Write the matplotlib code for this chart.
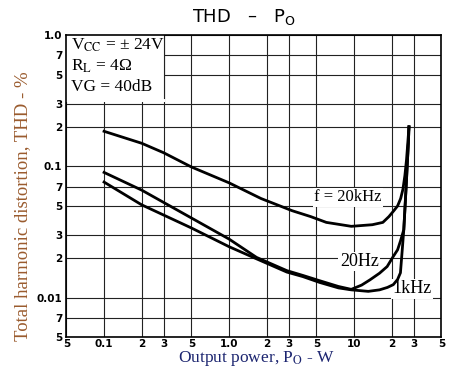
import matplotlib

matplotlib.use("Agg")
import matplotlib.pyplot as plt
from matplotlib.patches import Rectangle

plt.rcParams["mathtext.fontset"] = "stix"

# output power (W) and THD (%)
P_20KHZ = [0.1, 0.2, 0.3, 0.5, 1.0, 1.8, 3.2, 4.5, 6.0, 9.5, 14, 17, 19, 20.8, 22.3, 23.6, 24.6,
           25.5, 26.3, 26.9, 27.5]
THD_20KHZ = [0.185, 0.15, 0.127, 0.099, 0.075, 0.057, 0.046, 0.0415, 0.0375, 0.035, 0.036, 0.0375,
             0.0415, 0.046, 0.05, 0.057, 0.067, 0.085, 0.113, 0.15, 0.2]

P_20HZ = [0.1, 0.2, 0.5, 1.0, 1.66, 2.9, 3.9, 5.3, 7.5, 9.5, 11.5, 13.4, 16, 18.4, 20.5, 22.3, 23.5,
          25.0, 25.6, 26.2, 26.8, 27.2, 27.5]
THD_20HZ = [0.09, 0.066, 0.0405, 0.028, 0.0203, 0.0161, 0.0148, 0.0135, 0.0122, 0.0116, 0.0125,
            0.0137, 0.0154, 0.0173, 0.0205, 0.0232, 0.027, 0.033, 0.05, 0.075, 0.115, 0.15, 0.2]

P_1KHZ = [0.1, 0.2, 0.5, 1.0, 1.66, 2.9, 3.9, 5.3, 7.5, 9.5, 13, 16, 18.5, 20.6, 22.3, 23.5, 24.3,
          25.0, 25.6, 26.2, 26.8, 27.2, 27.5]
THD_1KHZ = [0.076, 0.051, 0.034, 0.0245, 0.0198, 0.0157, 0.0145, 0.0131, 0.0119, 0.0115, 0.0112,
            0.0115, 0.012, 0.0126, 0.0138, 0.0155, 0.0232, 0.033, 0.05, 0.075, 0.115, 0.15, 0.2]

X_TICKS = [0.05, 0.1, 0.2, 0.3, 0.5, 1, 2, 3, 5, 10, 20, 30, 50]
X_LABELS = ["5", "0.1", "2", "3", "5", "1.0", "2", "3", "5", "10", "2", "3", "5"]
Y_TICKS = [0.005, 0.007, 0.01, 0.02, 0.03, 0.05, 0.07, 0.1, 0.2, 0.3, 0.5, 0.7, 1.0]
Y_LABELS = ["5", "7", "0.01", "2", "3", "5", "7", "0.1", "2", "3", "5", "7", "1.0"]

SERIF = "Liberation Serif"

fig = plt.figure(figsize=(4.54, 3.75), dpi=100)
ax = fig.add_axes([0.1463, 0.1003, 0.826, 0.8064])
ax.set_xscale("log")
ax.set_yscale("log")
ax.set_xlim(0.05, 50)
ax.set_ylim(0.005, 1.0)

ax.set_xticks(X_TICKS)
ax.set_xticklabels(X_LABELS)
ax.set_yticks(Y_TICKS)
ax.set_yticklabels(Y_LABELS)
ax.minorticks_off()
ax.tick_params(length=0, labelsize=7.5)
ax.tick_params(axis="x", pad=1)
ax.tick_params(axis="y", pad=3)
for lbl in ax.get_xticklabels() + ax.get_yticklabels():
    lbl.set_fontweight("bold")
ax.grid(True, color="#222222", linewidth=0.8)
for sp in ax.spines.values():
    sp.set_linewidth(1.2)

# white panel behind the condition text
ax.add_patch(Rectangle((0.05, 0.31), 0.26, 0.69, facecolor="white", edgecolor="none", zorder=2))
ax.axvline(0.3, ymin=0.79, ymax=1.0, color="#222222", linewidth=0.8, zorder=2.1)

for p, thd in [(P_20KHZ, THD_20KHZ), (P_20HZ, THD_20HZ), (P_1KHZ, THD_1KHZ)]:
    ax.plot(p, thd, color="black", linewidth=2.0, zorder=3, solid_joinstyle="round")

# labels sit over the grid but under the curves
box = dict(facecolor="white", edgecolor="none", pad=1)
ax.text(8.9, 0.058, "f = 20kHz", family=SERIF, fontsize=12, ha="center", va="center", bbox=box, zorder=2.5)
ax.text(11.0, 0.0189, "20Hz", family=SERIF, fontsize=13, ha="center", va="center", bbox=box, zorder=2.5)
ax.text(29.0, 0.0117, "1kHz", family=SERIF, fontsize=13, ha="center", va="center", bbox=box, zorder=2.5)

ax.text(0.012, 0.967, r"V$_{\rm CC}$ = ± 24V", transform=ax.transAxes, family=SERIF, fontsize=12.5, va="center", zorder=4)
ax.text(0.012, 0.897, r"R$_{\rm L}$ = 4Ω", transform=ax.transAxes, family=SERIF, fontsize=12.5, va="center", zorder=4)
ax.text(0.012, 0.828, "VG = 40dB", transform=ax.transAxes, family=SERIF, fontsize=12.5, va="center", zorder=4)

fig.text(0.537, 0.955, r"THD   –   P$_{\rm O}$", fontsize=13, ha="center", va="center", math_fontfamily="dejavusans")
fig.text(0.564, 0.045, r"Output power, P$_{\rm O}$ - W", family=SERIF, fontsize=12.5, color="#1c2570", ha="center", va="center")
fig.text(0.05, 0.45, "Total harmonic distortion, THD - %", family=SERIF, fontsize=13.5, color="#9a5b2e", rotation=90, ha="center", va="center")

fig.savefig("out.png", dpi=100)
